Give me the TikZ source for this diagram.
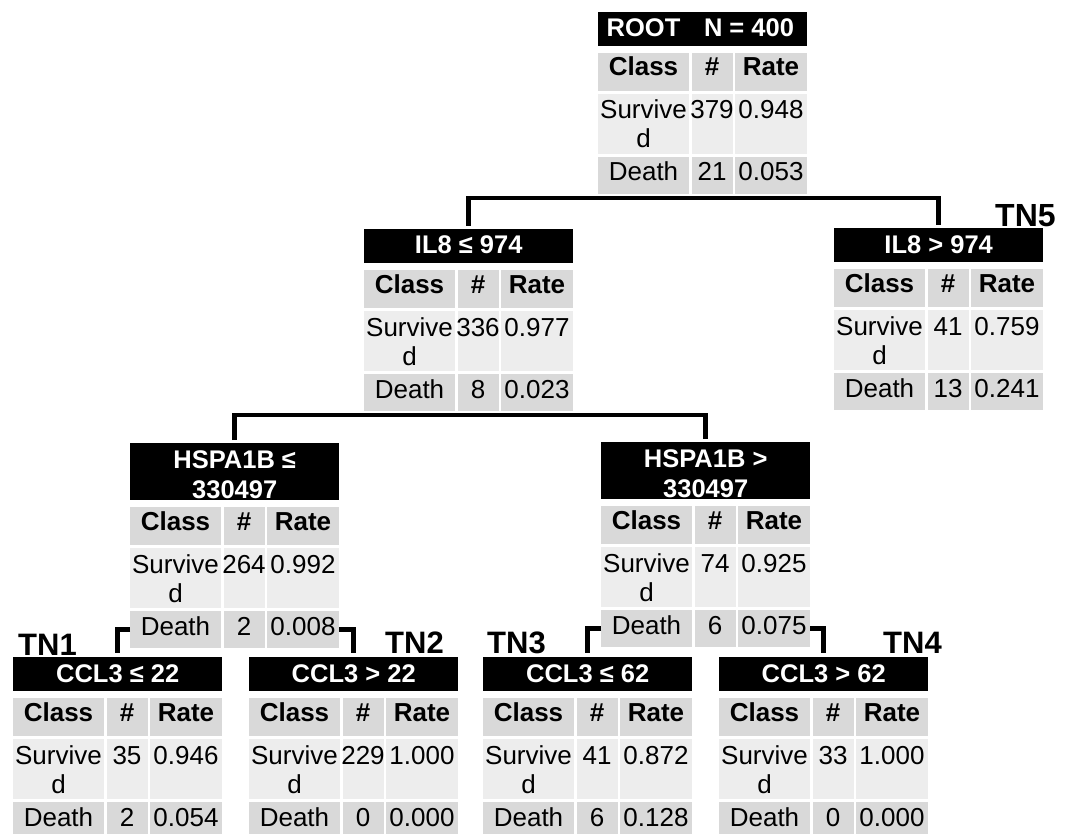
\documentclass[tikz,border=0pt]{standalone}
\usepackage{fontspec}
\setmainfont{Liberation Sans}
\usetikzlibrary{calc}
\definecolor{rowdark}{HTML}{D9D9D9}
\definecolor{rowlight}{HTML}{EDEDED}
\tikzset{
 hdr/.style={anchor=north west, fill=black, inner sep=0pt, minimum width=209pt, draw=none},
 cellbox/.style={anchor=north west, inner sep=0pt, draw=none},
 ctxt/.style={anchor=base, inner sep=0pt, font=\fontsize{26}{29}\selectfont},
 cbold/.style={anchor=base, inner sep=0pt, font=\fontsize{26}{29}\selectfont\bfseries},
 htxt/.style={anchor=base, inner sep=0pt, text=white, font=\fontsize{25.5}{30}\selectfont\bfseries},
 tnlab/.style={anchor=base west, inner sep=0pt, font=\fontsize{31}{34}\selectfont\bfseries},
 conn/.style={line width=4.5pt, line join=miter, draw=black},
}
% #1 name, #2 X, #3 Y, #4 header height, #5 n1, #6 r1, #7 n2, #8 r2
\newcommand{\DTable}[8]{%
 \pgfmathsetmacro{\tbYa}{#3+#4+7}%
 \pgfmathsetmacro{\tbYb}{#3+#4+48}%
 \pgfmathsetmacro{\tbYc}{#3+#4+111}%
 \pgfmathsetmacro{\tbXa}{#2}%
 \pgfmathsetmacro{\tbXb}{#2+93.5}%
 \pgfmathsetmacro{\tbXc}{#2+137}%
 \pgfmathsetmacro{\tbMa}{#2+45.5}%
 \pgfmathsetmacro{\tbMb}{#2+114}%
 \pgfmathsetmacro{\tbMc}{#2+173}%
 \node[hdr, minimum height=#4pt] (#1) at (#2,#3) {};
 \coordinate (#1-bot) at ({#2+104.5},{#3+#4+148});
 % Class row
 \node[cellbox, fill=rowdark, minimum width=91pt, minimum height=38pt] (#1-h1) at (\tbXa,\tbYa) {};
 \node[cellbox, fill=rowdark, minimum width=41pt, minimum height=38pt] (#1-h2) at (\tbXb,\tbYa) {};
 \node[cellbox, fill=rowdark, minimum width=72pt, minimum height=38pt] (#1-h3) at (\tbXc,\tbYa) {};
 \node[cbold] at ({\tbMa},{\tbYa+23}) {Class};
 \node[cbold] at ({\tbMb},{\tbYa+23}) {\#};
 \node[cbold] at ({\tbMc},{\tbYa+23}) {Rate};
 % Survived row
 \node[cellbox, fill=rowlight, minimum width=91pt, minimum height=60pt] (#1-s1) at (\tbXa,\tbYb) {};
 \node[cellbox, fill=rowlight, minimum width=41pt, minimum height=60pt] (#1-s2) at (\tbXb,\tbYb) {};
 \node[cellbox, fill=rowlight, minimum width=72pt, minimum height=60pt] (#1-s3) at (\tbXc,\tbYb) {};
 \node[ctxt] at ({\tbMa},{\tbYb+25}) {Survive};
 \node[ctxt] at ({\tbMa},{\tbYb+54}) {d};
 \node[ctxt] at ({\tbMb},{\tbYb+25}) {#5};
 \node[ctxt] at ({\tbMc},{\tbYb+25}) {#6};
 % Death row
 \node[cellbox, fill=rowdark, minimum width=91pt, minimum height=37pt] (#1-d1) at (\tbXa,\tbYc) {};
 \node[cellbox, fill=rowdark, minimum width=41pt, minimum height=37pt] (#1-d2) at (\tbXb,\tbYc) {};
 \node[cellbox, fill=rowdark, minimum width=72pt, minimum height=37pt] (#1-d3) at (\tbXc,\tbYc) {};
 \node[ctxt] at ({\tbMa},{\tbYc+24}) {Death};
 \node[ctxt] at ({\tbMb},{\tbYc+24}) {#7};
 \node[ctxt] at ({\tbMc},{\tbYc+24}) {#8};
}
\begin{document}
\begin{tikzpicture}[x=1pt,y=-1pt]
\useasboundingbox (0,0) rectangle (1067,834);
\fill[white] (0,0) rectangle (1067,834);

% terminal node labels
\node[tnlab, font=\fontsize{32}{34}\selectfont\bfseries] (tn5) at (995,227) {TN5};
\node[tnlab] (tn1) at (18,655) {TN1};
\node[tnlab] (tn2) at (385,653) {TN2};
\node[tnlab] (tn3) at (487,653) {TN3};
\node[tnlab] (tn4) at (883,653) {TN4};

% tables
\DTable{root}{598}{12}{34}{379}{0.948}{21}{0.053}
\DTable{il8a}{364}{229}{34}{336}{0.977}{8}{0.023}
\DTable{il8b}{834}{228}{34}{41}{0.759}{13}{0.241}
\DTable{hsa}{130}{443}{57}{264}{0.992}{2}{0.008}
\DTable{hsb}{601}{442}{57}{74}{0.925}{6}{0.075}
\DTable{cca}{13}{657}{34}{35}{0.946}{2}{0.054}
\DTable{ccb}{249}{657}{34}{229}{1.000}{0}{0.000}
\DTable{ccc}{483}{657}{34}{41}{0.872}{6}{0.128}
\DTable{ccd}{719}{657}{34}{33}{1.000}{0}{0.000}

% header texts
\node[htxt] at ($(root.north west)+(45.5,25)$) {ROOT};
\node[htxt] at ($(root.north west)+(151,25)$) {N = 400};
\node[htxt] at ($(il8a.north)+(0,25)$) {IL8 ≤ 974};
\node[htxt] at ($(il8b.north)+(0,25)$) {IL8 > 974};
\node[htxt] at ($(hsa.north)+(0,25)$) {HSPA1B ≤};
\node[htxt] at ($(hsa.north)+(0,55)$) {330497};
\node[htxt] at ($(hsb.north)+(0,25)$) {HSPA1B >};
\node[htxt] at ($(hsb.north)+(0,55)$) {330497};
\node[htxt] at ($(cca.north)+(0,25)$) {CCL3 ≤ 22};
\node[htxt] at ($(ccb.north)+(0,25)$) {CCL3 > 22};
\node[htxt] at ($(ccc.north)+(0,25)$) {CCL3 ≤ 62};
\node[htxt] at ($(ccd.north)+(0,25)$) {CCL3 > 62};

% connectors
\draw[conn, shorten <=3pt, shorten >=3pt] (il8a.north) |- ($(root-bot)+(0,4)$) -| (il8b.north);
\draw[conn, shorten <=3pt, shorten >=3pt] (hsa.north) |- ($(il8a-bot)+(0,4)$) -| (hsb.north);
\draw[conn, shorten >=4pt] (hsa-d1.west) -| (cca.north);
\draw[conn, shorten >=4pt] (hsa-d3.east) -| (ccb.north);
\draw[conn, shorten >=4pt] (hsb-d1.west) -| (ccc.north);
\draw[conn, shorten >=4pt] (hsb-d3.east) -| (ccd.north);
\end{tikzpicture}
\end{document}
